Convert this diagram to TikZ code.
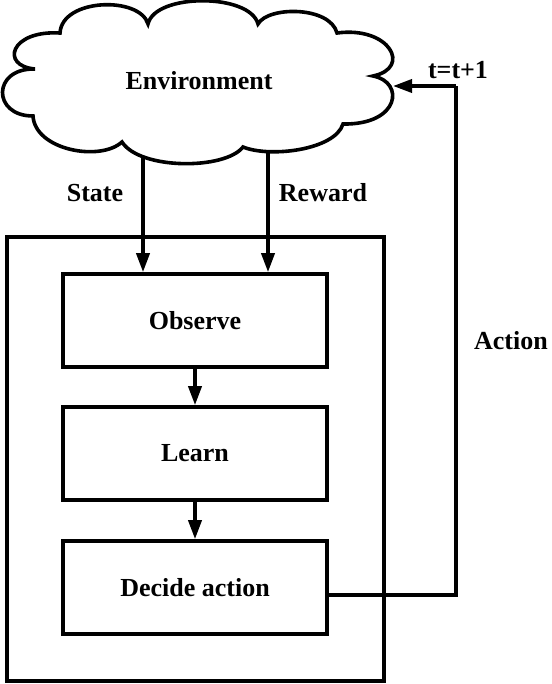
\documentclass[tikz,border=0pt]{standalone}
\usepackage{fontspec}
\setmainfont{Liberation Serif}
\usetikzlibrary{arrows.meta,calc,backgrounds}
\begin{document}
\begin{tikzpicture}[x=1pt,y=-1pt,
  lw/.style={line width=3.6pt},
  lbl/.style={font=\bfseries\fontsize{26}{30}\selectfont},
  box/.style={draw,lw,minimum width=264pt,minimum height=93pt,inner sep=0pt,lbl},
  arr/.style={lw,-{Triangle[length=19pt,width=13pt]}}]
\useasboundingbox (0,0) rectangle (551,684);
% cloud
\draw[lw,fill=white,line join=miter] (60,33)
  .. controls (62,-2) and (140,-4) .. (148,24)
  .. controls (155,-7) and (250,-7) .. (258,24)
  .. controls (268,6) and (330,6) .. (337,33)
  .. controls (390,26) and (412,68) .. (373,76)
  .. controls (405,82) and (400,125) .. (343,124)
  .. controls (335,150) and (270,158) .. (243,147)
  .. controls (225,170) and (140,170) .. (122,142)
  .. controls (100,162) and (35,150) .. (33,116)
  .. controls (-8,116) and (-8,68) .. (35,69)
  .. controls (0,66) and (10,30) .. (60,33) -- cycle;
\node[lbl] (env) at (199,81) {Environment};
\node[box] (obs) at (195,320.5) {Observe};
\node[box] (lrn) at (195,453.5) {Learn};
\node[box] (dec) at (195,587.5) {Decide action};
\node[draw,lw,minimum width=377pt,minimum height=444pt,inner sep=0pt] (outer) at (195.5,459) {};
\node[lbl] (state) at (95,193) {State};
\node[lbl] (reward) at (323,193) {Reward};
\node[lbl] (tt) at (458,70) {t=t+1};
\node[lbl] (act) at (511,341) {Action};
\coordinate (sx) at (143,120);
\coordinate (rx) at (268,120);
\begin{scope}[on background layer]
\draw[arr] (sx) -- (sx |- obs.north);
\draw[arr] (rx) -- (rx |- obs.north);
\end{scope}
\draw[arr] (obs) -- (lrn);
\draw[arr] (lrn) -- (dec);
\coordinate (dout) at ($(dec.east)+(0,7.5)$);
\coordinate (turn) at (456,86);
\coordinate (ctip) at (393,86);
\draw[lw] (dout) -| (turn);
\draw[arr] (turn) -- (ctip);
\end{tikzpicture}
\end{document}
